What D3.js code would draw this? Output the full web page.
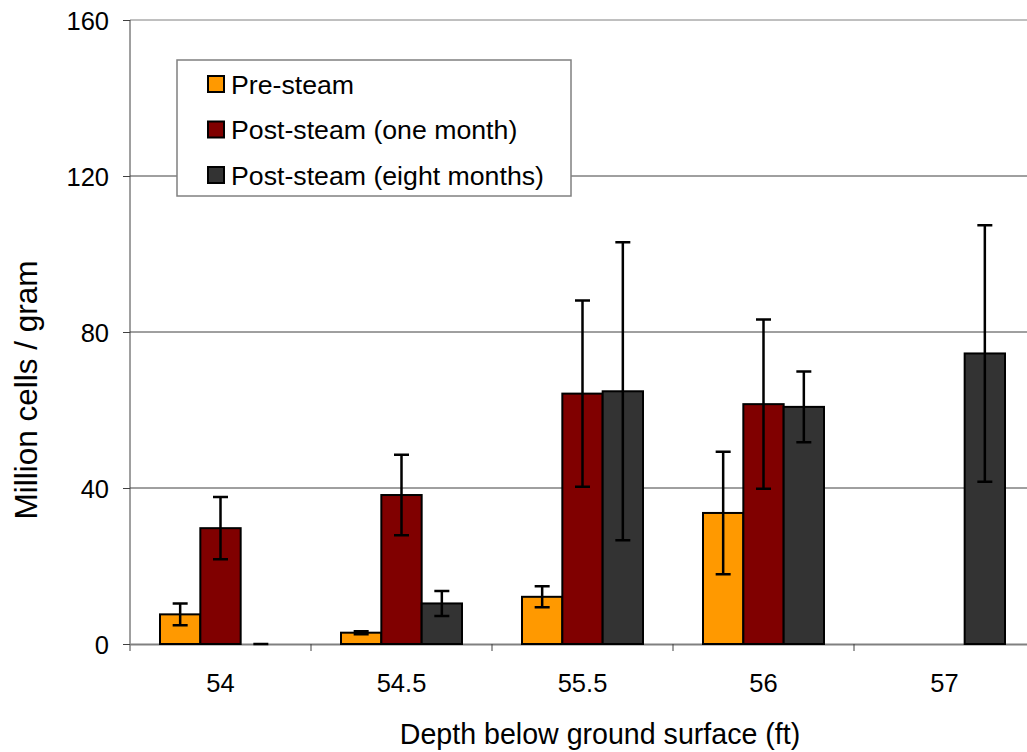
<!DOCTYPE html>
<html>
<head>
<meta charset="utf-8">
<script src="https://cdn.jsdelivr.net/npm/d3@7"></script>
<style>
  body { margin: 0; background: #fff; }
  text { font-family: "Liberation Sans", Arial, sans-serif; fill: #000; }
</style>
</head>
<body>
<svg id="chart" width="1027" height="752"></svg>
<script>
// depths (ft) and the three sampling rounds
var depths = ["54", "54.5", "55.5", "56", "57"];
var seriesNames = ["Pre-steam", "Post-steam (one month)", "Post-steam (eight months)"];
var seriesColors = ["#ff9900", "#800000", "#333333"];

// mean million cells / gram, null = not sampled
var preSteam   = [7.6, 2.9, 12.1, 33.6, null];
var postOne    = [29.7, 38.2, 64.2, 61.5, null];
var postEight  = [0, 10.4, 64.8, 60.8, 74.5];

// +/- error
var preSteamErr  = [2.8, 0.4, 2.7, 15.7, null];
var postOneErr   = [8.0, 10.3, 23.9, 21.7, null];
var postEightErr = [0, 3.2, 38.2, 9.1, 32.9];

var yTicks = [0, 40, 80, 120, 160];

var values = [preSteam, postOne, postEight];
var errors = [preSteamErr, postOneErr, postEightErr];

var margin = {left: 130, top: 20, right: -8, bottom: 108};
var svg = d3.select("#chart");
var width = 1027 - margin.left - margin.right,
  height = 752 - margin.top - margin.bottom;

var g = svg.append("g").attr("transform", "translate(" + margin.left + "," + margin.top + ")");

var x = d3.scaleBand().domain(depths).range([0, width]).paddingInner(0).paddingOuter(0);
var xInner = d3.scaleBand().domain(d3.range(3)).range([30, x.bandwidth() - 30]);
var y = d3.scaleLinear().domain([0, 160]).range([height, 0]);

// gridlines
g.append("g").selectAll("line").data(yTicks.slice(1)).enter().append("line")
  .attr("x1", 0).attr("x2", width)
  .attr("y1", function(d) { return y(d); }).attr("y2", function(d) { return y(d); })
  .attr("stroke", function(d) { return d === 160 ? "#808080" : "#404040"; })
  .attr("stroke-width", 1);

// y axis
var yAxis = g.append("g").call(d3.axisLeft(y).tickValues(yTicks).tickSize(7).tickPadding(14));
yAxis.select(".domain").attr("stroke", "#404040").attr("d", "M0," + y(160) + "V" + y(0));
yAxis.selectAll(".tick line").attr("stroke", "#404040");
yAxis.selectAll("text").style("font-size", "25.5px").attr("dy", "0.36em");

// x axis
var xAxis = g.append("g").attr("transform", "translate(0," + height + ")")
  .call(d3.axisBottom(x).tickSize(0).tickPadding(30));
xAxis.select(".domain").attr("stroke", "#808080").attr("stroke-width", 2);
xAxis.selectAll("text").style("font-size", "25.5px");
xAxis.append("g").selectAll("line").data(depths).enter().append("line")
  .attr("x1", function(d) { return x(d); }).attr("x2", function(d) { return x(d); })
  .attr("y1", 0).attr("y2", 7).attr("stroke", "#404040");

// bars
var groups = g.append("g").selectAll("g").data(depths).enter().append("g")
  .attr("transform", function(d) { return "translate(" + x(d) + ",0)"; });

groups.each(function(d, i) {
  var grp = d3.select(this);
  values.forEach(function(vals, s) {
    var v = vals[i];
    if (v === null) return;
    var bx = xInner(s), bw = xInner.bandwidth();
    if (v > 0) {
      grp.append("rect")
        .attr("x", bx).attr("width", bw)
        .attr("y", y(v)).attr("height", y(0) - y(v))
        .attr("fill", seriesColors[s]).attr("stroke", "#000").attr("stroke-width", 2);
    }
    var e = errors[s][i], cx = bx + bw / 2;
    var path = "M" + cx + "," + y(v + e) + "V" + y(v - e)
      + "M" + (cx - 7.5) + "," + y(v + e) + "h15"
      + "M" + (cx - 7.5) + "," + y(v - e) + "h15";
    grp.append("path").attr("d", path).attr("stroke", "#000").attr("stroke-width", 2.5).attr("fill", "none");
  });
});

// axis titles
svg.append("text").attr("x", 600).attr("y", 744).attr("text-anchor", "middle")
  .style("font-size", "28.6px").text("Depth below ground surface (ft)");
svg.append("text").attr("transform", "translate(37,390) rotate(-90)").attr("text-anchor", "middle")
  .style("font-size", "31.5px").text("Million cells / gram");

// legend
var legend = svg.append("g").attr("transform", "translate(177,60)");
legend.append("rect").attr("width", 394).attr("height", 136)
  .attr("fill", "#fff").attr("stroke", "#808080").attr("stroke-width", 1.5);
var items = legend.selectAll("g.item").data(seriesNames).enter().append("g").attr("class", "item")
  .attr("transform", function(d, i) { return "translate(31," + (24 + i * 45.5) + ")"; });
items.append("rect").attr("x", 0).attr("y", -8).attr("width", 16).attr("height", 16)
  .attr("fill", function(d, i) { return seriesColors[i]; }).attr("stroke", "#000").attr("stroke-width", 2);
items.append("text").attr("x", 23).attr("dy", "0.36em").style("font-size", "26.7px")
  .text(function(d) { return d; });
</script>
</body>
</html>
